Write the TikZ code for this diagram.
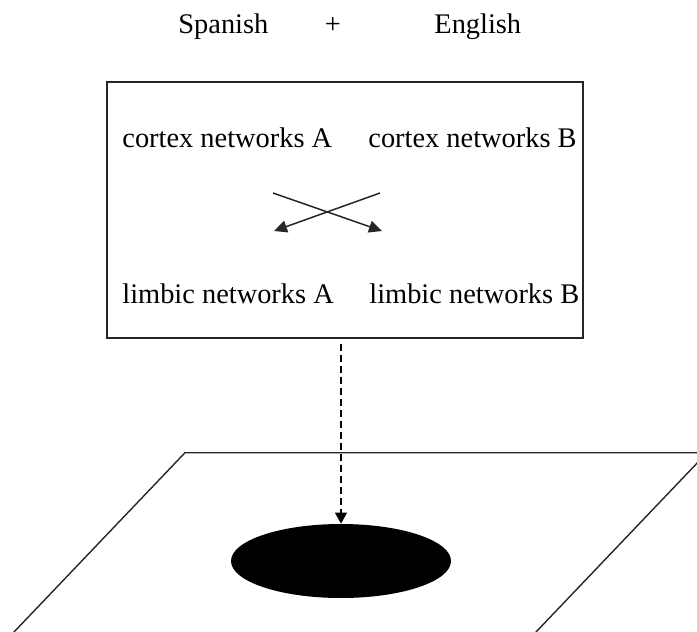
\documentclass[tikz,border=0pt]{standalone}
\usepackage{fontspec}
\setmainfont{Liberation Serif}
\usetikzlibrary{arrows.meta,shapes.geometric,calc}
\tikzset{
  label text/.style={inner sep=0pt, anchor=base west, font=\fontsize{14.2}{16}\selectfont},
  thin line/.style={line width=0.7pt, draw=black!85},
  cross arrow/.style={line width=0.75pt, draw=black!85, -{Triangle[length=6.5pt,width=6pt]}},
  drop arrow/.style={line width=0.65pt, dash pattern=on 3.5pt off 2pt, -{Triangle[length=5.5pt,width=6pt]}},
}
\begin{document}
\begin{tikzpicture}[x=0.5pt,y=-0.5pt]
\useasboundingbox (0,0) rectangle (697,632);
\clip (0,0) rectangle (697,632);

% languages on top
\node[label text] (es) at (178,33) {Spanish};
\node[label text, anchor=base] (plus) at (333,33) {+};
\node[label text] (en) at (434,33) {English};

% network box
\node[thin line, draw, minimum width=238pt, minimum height=128pt, inner sep=0pt] (net) at (345,210) {};
\node[label text] (ca) at (122,147) {cortex networks A};
\node[label text] (cb) at (368,147) {cortex networks B};
\node[label text] (la) at (122,303) {limbic networks A};
\node[label text] (lb) at (369,303) {limbic networks B};

% crossing links
\coordinate (x1s) at (273,193);
\coordinate (x1e) at (382,231);
\coordinate (x2s) at (380,193);
\coordinate (x2e) at (274,231);
\draw[cross arrow] (x1s) -- (x1e);
\draw[cross arrow] (x2s) -- (x2e);

% plane with the target spot
\coordinate (pl1) at (185,452.7);
\coordinate (pl2) at (707,452.7);
\coordinate (pl3) at (536,632);
\coordinate (pl4) at (14,632);
\draw[thin line] ($(pl4)!-0.2!(pl1)$) -- (pl1) -- (pl2) -- ($(pl2)!1.2!(pl3)$);
\node[ellipse, fill=black, minimum width=110pt, minimum height=37pt, inner sep=0pt] (spot) at (341,561) {};

% projection onto the plane
\draw[drop arrow] (net.south -| spot.north) ++(0,5) -- (spot.north);
\end{tikzpicture}
\end{document}
